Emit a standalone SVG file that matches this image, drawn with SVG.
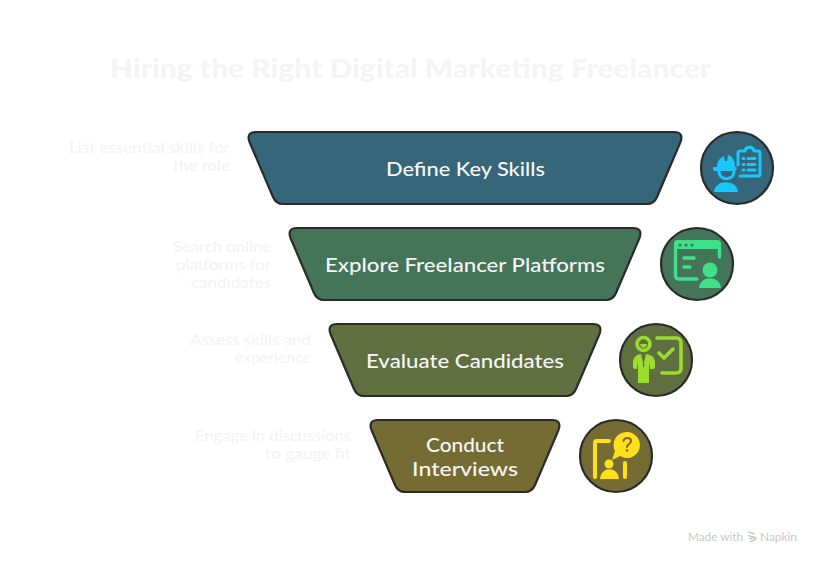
<svg xmlns="http://www.w3.org/2000/svg" width="821" height="564" viewBox="0 0 821 564">
<style>
text{font-family:"Lato","Noto Sans",sans-serif}
.shape{stroke:#2b2b2b;stroke-width:2.2;stroke-linejoin:round}
.main{font-size:20px;font-weight:500;fill:#f6f6f6;text-anchor:start}
.side{font-size:16px;font-weight:500;fill:#f3f3f3}
.title{font-size:26px;font-weight:900;fill:#f4f4f4}
.foot{font-size:12px;fill:#c9c9c9}
.i1{fill:#1ac6ff}.s1{fill:none;stroke:#1ac6ff;stroke-width:3;stroke-linecap:round;stroke-linejoin:round}
.i2{fill:#3fe08a}.s2{fill:none;stroke:#3fe08a;stroke-width:3.400;stroke-linecap:round;stroke-linejoin:round}
.i3{fill:#9bdc2e}.s3{fill:none;stroke:#9bdc2e;stroke-width:3.600;stroke-linecap:round;stroke-linejoin:round}
.i4{fill:#ffe01a}.s4{fill:none;stroke:#ffe01a;stroke-width:4;stroke-linecap:round;stroke-linejoin:round}
</style>
<rect width="821" height="564" fill="#ffffff"/>
<text id="title" class="title" x="110" y="78" textLength="601" lengthAdjust="spacingAndGlyphs">Hiring the Right Digital Marketing Freelancer</text>

<g id="node-define">
<path class="shape" fill="#36667a" d="M256,132H674Q684,132 680.500,142L657,197Q654,204 647,204H283Q276,204 273,197L249.500,142Q246,132 256,132Z"/>
<text class="main" x="386" y="176" textLength="159" lengthAdjust="spacingAndGlyphs">Define Key Skills</text>
<text class="side" x="69" y="153" textLength="161" lengthAdjust="spacingAndGlyphs">List essential skills for</text>
<text class="side" x="173" y="171" textLength="57" lengthAdjust="spacingAndGlyphs">the role</text>
<circle class="shape" fill="#36667a" cx="737" cy="168" r="36"/>
<path class="i1" d="M717,167C717,161 720,158 724,156L725,161L727,161L728,155C733,156 735,161 735,167H736.500Q737,171 735,171H714.500Q712.500,171 713,167Z"/>
<path class="s1" d="M719,172C720,181 733,181 734,172"/>
<path class="i1" d="M714,192C715,179 737,179 738,192Z"/>
<path class="s1" d="M738,165V153Q738,151 740,151H745C746,146 753,146 754,151H758Q760,151 760,153V174Q760,176 758,176H740"/>
<path class="s1" d="M743,158.500H744M748,158.500H755M743,164.500H744M748,164.500H755M743,170H744M748,170H755"/>
</g>

<g id="node-explore">
<path class="shape" fill="#447559" d="M297,228H633Q643,228 639.500,238L616,293Q613,300 606,300H324Q317,300 314,293L290.500,238Q287,228 297,228Z"/>
<text class="main" x="325" y="272" textLength="280" lengthAdjust="spacingAndGlyphs">Explore Freelancer Platforms</text>
<text class="side" x="173" y="252" textLength="98" lengthAdjust="spacingAndGlyphs">Search online</text>
<text class="side" x="176" y="270" textLength="95" lengthAdjust="spacingAndGlyphs">platforms for</text>
<text class="side" x="191" y="288" textLength="80" lengthAdjust="spacingAndGlyphs">candidates</text>
<circle class="shape" fill="#447559" cx="697" cy="264" r="36"/>
<path class="i2" d="M674,249V244Q674,240 678,240H717Q721,240 721,244V249Z"/>
<path class="s2" d="M675.500,248V275Q675.500,279 679,279H697M719.500,248V257"/>
<circle cx="680" cy="245" r="1.600" fill="#447559"/><circle cx="686" cy="245" r="1.600" fill="#447559"/><circle cx="692" cy="245" r="1.600" fill="#447559"/>
<path class="s2" d="M684,258H694M684,267H690"/>
<circle class="i2" cx="710" cy="270" r="7.500"/>
<path class="i2" d="M699,288C700,275 720,275 721,288Z"/>
</g>

<g id="node-evaluate">
<path class="shape" fill="#606f3f" d="M337,324H593Q603,324 599.500,334L576,389Q573,396 566,396H364Q357,396 354,389L330.500,334Q327,324 337,324Z"/>
<text class="main" x="366" y="368" textLength="198" lengthAdjust="spacingAndGlyphs">Evaluate Candidates</text>
<text class="side" x="190" y="345" textLength="121" lengthAdjust="spacingAndGlyphs">Assess skills and</text>
<text class="side" x="235" y="363" textLength="76" lengthAdjust="spacingAndGlyphs">experience</text>
<circle class="shape" fill="#606f3f" cx="656" cy="360" r="36"/>
<circle class="s3" cx="643.500" cy="344" r="6.500"/>
<path class="i3" d="M640,344H647C646,349 641,349 640,344Z"/>
<path class="i3" d="M633,367V361Q634,355 641,354L643,362L644,362L646,354Q654,355 655,361V367Q655,369 653,369H650V362L649,368H638L637,362V369H635Q633,369 633,367Z"/>
<path class="i3" d="M638,368H649V383H638Z"/>
<path d="M643.500,356V367" stroke="#606f3f" stroke-width="1.200" fill="none"/>
<path class="s3" d="M657,338H676Q681,338 681,343V368Q681,373 676,373H662"/>
<path class="s3" d="M659,353L664,358L673,349"/>
</g>

<g id="node-conduct">
<path class="shape" fill="#756c33" d="M378,420H552Q562,420 558.500,430L535,485Q532,492 525,492H405Q398,492 395,485L371.500,430Q368,420 378,420Z"/>
<text class="main" x="426" y="452" textLength="78" lengthAdjust="spacingAndGlyphs">Conduct</text>
<text class="main" x="412" y="476" textLength="106" lengthAdjust="spacingAndGlyphs">Interviews</text>
<text class="side" x="195" y="441" textLength="156" lengthAdjust="spacingAndGlyphs">Engage in discussions</text>
<text class="side" x="265" y="459" textLength="86" lengthAdjust="spacingAndGlyphs">to gauge fit</text>
<circle class="shape" fill="#756c33" cx="616" cy="456" r="36"/>
<path class="s4" d="M595,477V443Q595,441 597,441H609M625,463V477"/>
<path class="i4" d="M627,432A13,13 0 1 1 620,456L612,460L615,451A13,13 0 0 1 627,432Z"/>
<path d="M623.500,441C624,437 631,437 631,441C631,444 627,444 627,447" fill="none" stroke="#756c33" stroke-width="2" stroke-linecap="round"/>
<circle cx="627" cy="450.500" r="1.300" fill="#756c33"/>
<circle class="i4" cx="609" cy="464" r="4.500"/>
<path class="i4" d="M600,479C601,466 618,466 619,479Z"/>
</g>

<g id="footer">
<text class="foot" x="688" y="541" textLength="55" lengthAdjust="spacingAndGlyphs">Made with</text>
<path d="M748,532L755,534M748,535.500L757,538M749,539L755,537M750,542L756,539" fill="none" stroke="#c9c9c9" stroke-width="1.400"/>
<text class="foot" x="760" y="541" textLength="37" lengthAdjust="spacingAndGlyphs">Napkin</text>
</g>
</svg>
